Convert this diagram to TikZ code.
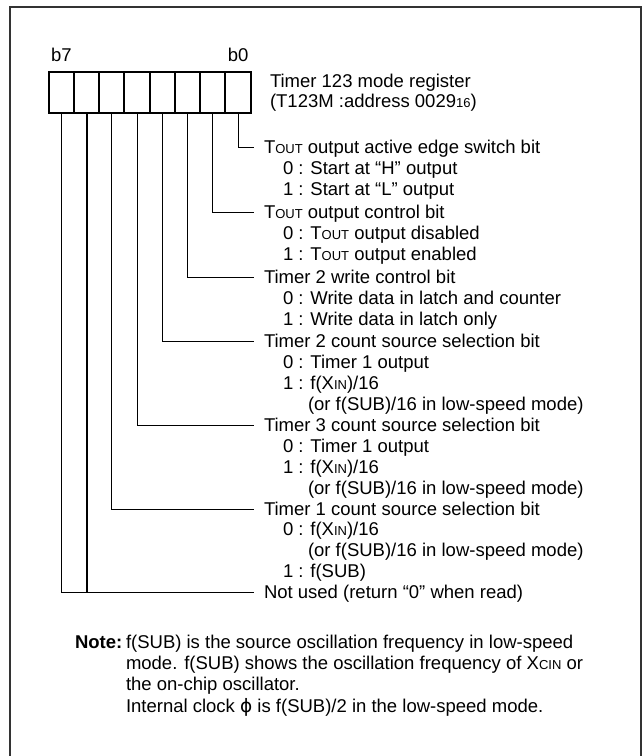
\documentclass[tikz,border=0pt]{standalone}
\usepackage{fontspec}
\setmainfont{Liberation Sans}
\newfontfamily\phifont{DejaVu Sans}
\usetikzlibrary{positioning}
\newcommand{\lowcap}[1]{{\fontsize{13}{13}\selectfont #1}}

\begin{document}
\begin{tikzpicture}[
  x=1pt, y=-1pt,
  font=\fontsize{18.5}{22}\selectfont,
  frame/.style={line width=2.5pt, draw=black!80},
  cell/.style={draw, line width=2pt, minimum width=25.25pt, minimum height=41pt, inner sep=0pt, outer sep=0pt},
  bitlbl/.style={inner sep=0pt, text height=12pt, text depth=0pt},
  txt/.style={anchor=west, inner xsep=10pt, inner ysep=0pt, outer sep=0pt, text height=12pt, text depth=0pt},
  plain/.style={txt, inner xsep=0pt},
  lead/.style={line width=0.9pt},
  heavylead/.style={line width=2pt}
]
\useasboundingbox (0,0) rectangle (643,756);
\draw[frame] (10,760) -- (10,7) -- (641,7) -- (641,760);

% register cells b7 ... b0
\foreach \i in {0,...,7}
  \node[cell] (c\i) at ({238.1-25.25*\i},92.5) {};

\node[bitlbl, above=10pt of c7] (b7) {b7};
\node[bitlbl, above=10pt of c0] (b0) {b0};

\node[plain] (title) at (270,81) {Timer 123 mode register};
\node[plain] (addr) at (270,101) {(T123M :address 0029\lowcap{16})};

% bit descriptions
\node[txt] (hd0) at (254,147) {T\lowcap{OUT} output active edge switch bit};
\node[txt] (hd0a) at (273,168.3) {0 : Start at “H” output};
\node[txt] (hd0b) at (273,189.6) {1 : Start at “L” output};

\node[txt] (hd1) at (254,212) {T\lowcap{OUT} output control bit};
\node[txt] (hd1a) at (273,233.3) {0 : T\lowcap{OUT} output disabled};
\node[txt] (hd1b) at (273,254.6) {1 : T\lowcap{OUT} output enabled};

\node[txt] (hd2) at (254,277) {Timer 2 write control bit};
\node[txt] (hd2a) at (273,298.3) {0 : Write data in latch and counter};
\node[txt] (hd2b) at (273,319.6) {1 : Write data in latch only};

\node[txt] (hd3) at (254,341) {Timer 2 count source selection bit};
\node[txt] (hd3a) at (273,362) {0 : Timer 1 output};
\node[txt] (hd3b) at (273,383) {1 : f(X\lowcap{IN})/16};
\node[txt] (hd3c) at (298,404) {(or f(SUB)/16 in low-speed mode)};

\node[txt] (hd4) at (254,425) {Timer 3 count source selection bit};
\node[txt] (hd4a) at (273,446) {0 : Timer 1 output};
\node[txt] (hd4b) at (273,467) {1 : f(X\lowcap{IN})/16};
\node[txt] (hd4c) at (298,488) {(or f(SUB)/16 in low-speed mode)};

\node[txt] (hd5) at (254,509) {Timer 1 count source selection bit};
\node[txt] (hd5a) at (273,529.8) {0 : f(X\lowcap{IN})/16};
\node[txt] (hd5b) at (298,550.6) {(or f(SUB)/16 in low-speed mode)};
\node[txt] (hd5c) at (273,571.4) {1 : f(SUB)};

\node[txt] (hd6) at (254,592) {Not used (return “0” when read)};

% leader lines
\draw[lead] (c0.south) |- (hd0.west);
\draw[lead] (c1.south) |- (hd1.west);
\draw[lead] (c2.south) |- (hd2.west);
\draw[lead] (c3.south) |- (hd3.west);
\draw[lead] (c4.south) |- (hd4.west);
\draw[lead] (c5.south) |- (hd5.west);
\draw[lead] (c7.south) |- (hd6.west);
\draw[heavylead] (c6.south) -- (c6.south |- hd6.west);

% note
\node[plain, font=\fontsize{18.5}{22}\selectfont\bfseries] (note) at (75,642) {Note:};
\node[plain] (note1) at (126,642) {f(SUB) is the source oscillation frequency in low-speed};
\node[plain] (note2) at (126,663.3) {mode. f(SUB) shows the oscillation frequency of X\lowcap{CIN} or};
\node[plain] (note3) at (126,684.6) {the on-chip oscillator.};
\node[plain] (note4) at (126,706) {Internal clock {\phifont ϕ} is f(SUB)/2 in the low-speed mode.};

\end{tikzpicture}
\end{document}
